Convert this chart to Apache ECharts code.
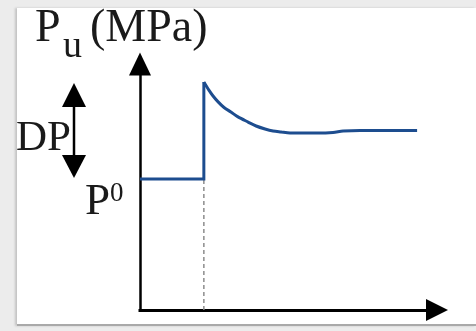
<!DOCTYPE html>
<html>
<head>
<meta charset="utf-8">
<script src="https://cdn.jsdelivr.net/npm/echarts@6/dist/echarts.min.js"></script>
<style>
  html, body { margin: 0; padding: 0; background: #ececec; }
  #frame {
    position: absolute; left: 17px; top: 8px; width: 459px; height: 316px;
    background: #fff; border-bottom: 2px solid #a9a9a9;
    box-shadow: -2px 0 2px #c4c4c4;
  }
  #chart { position: absolute; left: 0; top: 0; width: 476px; height: 331px; }
</style>
</head>
<body>
<div id="frame"></div>
<div id="chart"></div>
<script>
// step part: baseline P0 then the jump at the pulse time
const stepTime = [0, 21.5, 21.5]
const stepPressure = [53.3, 53.3, 92.7]
// relaxation after the jump
const decayTime = [21.5, 23.2, 24.6, 26.3, 28.3, 30.6, 33.0, 36.4, 39.1, 42.1, 44.8, 47.5, 50.5, 53.9, 59.9, 65.0, 68.4, 74.1, 93.3]
const decayPressure = [92.7, 89.4, 87.0, 84.6, 82.3, 80.5, 78.5, 76.4, 74.8, 73.6, 72.8, 72.4, 72.0, 71.95, 71.95, 72.2, 72.8, 73.0, 73.0]
// dotted guide from the jump down to the time axis
const guideTime = [21.5, 21.5]
const guidePressure = [0, 53.3]

const zip = (xs, ys) => xs.map((x, i) => [x, ys[i]])

const serif = '"Liberation Serif", "DejaVu Serif", serif'
const ink = '#1a1a1a'
const blue = '#1d4d8f'

function txt (text, x, y, size) {
  return {
    type: 'text',
    x: x,
    y: y,
    style: { text: text, font: size + 'px ' + serif, fill: ink, align: 'left', verticalAlign: 'middle' },
    z: 10
  }
}

const chart = echarts.init(document.getElementById('chart'))
chart.setOption({
  animation: false,
  grid: { left: 140, right: 39, top: 64, bottom: 21 },
  xAxis: {
    type: 'value', min: 0, max: 100,
    axisLine: {
      show: true, symbol: ['none', 'triangle'], symbolSize: [22, 22],
      lineStyle: { color: '#000', width: 3, cap: 'square' }
    },
    axisTick: { show: false }, axisLabel: { show: false }, splitLine: { show: false }
  },
  yAxis: {
    type: 'value', min: 0, max: 100,
    axisLine: {
      show: true, symbol: ['none', 'triangle'], symbolSize: [22, 23],
      lineStyle: { color: '#000', width: 2.5, cap: 'square' }
    },
    axisTick: { show: false }, axisLabel: { show: false }, splitLine: { show: false }
  },
  series: [
    {
      type: 'line', data: zip(guideTime, guidePressure), symbol: 'none', z: 1,
      lineStyle: { color: '#8c8c8c', width: 1.5, type: [4, 3] }
    },
    {
      type: 'line', data: zip(stepTime, stepPressure), symbol: 'none', z: 3,
      lineStyle: { color: blue, width: 3, join: 'miter' }
    },
    {
      type: 'line', data: zip(decayTime, decayPressure), symbol: 'none', smooth: 0.3, z: 3,
      lineStyle: { color: blue, width: 3 }
    }
  ],
  graphic: [
    txt('P', 35, 29, 46),
    txt('u', 63, 47, 38),
    txt('(MPa)', 90, 29, 46),
    txt('DP', 16, 139, 43),
    txt('P', 85, 202, 45),
    txt('0', 110, 194, 27),
    // double-headed arrow next to DP
    { type: 'line', shape: { x1: 74, y1: 100, x2: 74, y2: 162 }, style: { stroke: '#000', lineWidth: 2.5 }, z: 11 },
    { type: 'polygon', shape: { points: [[74, 83], [86, 107], [62, 107]] }, style: { fill: '#000' }, z: 11 },
    { type: 'polygon', shape: { points: [[74, 178], [86, 155], [62, 155]] }, style: { fill: '#000' }, z: 11 }
  ]
})
</script>
</body>
</html>
